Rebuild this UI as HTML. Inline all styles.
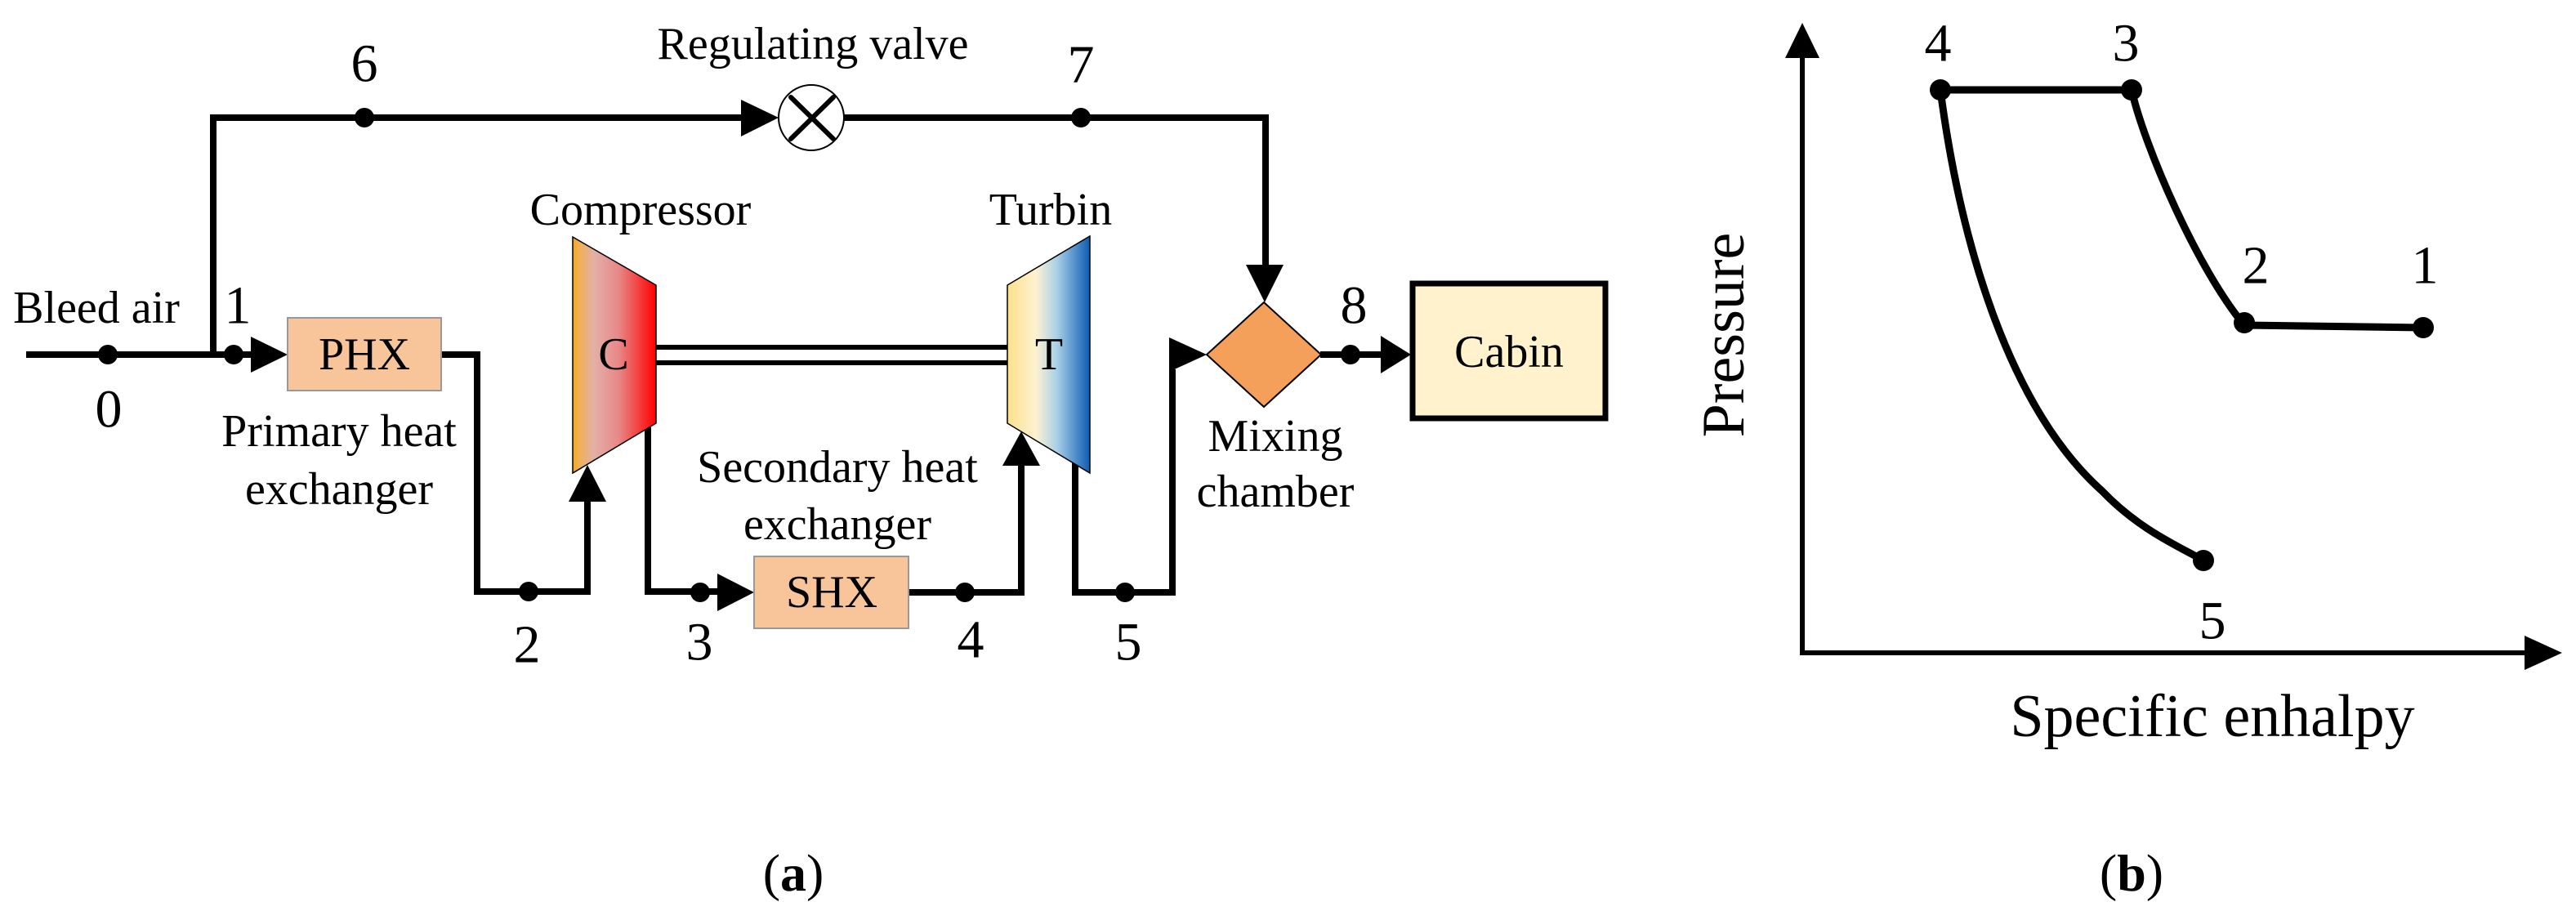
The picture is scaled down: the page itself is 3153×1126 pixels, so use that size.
<!DOCTYPE html>
<html><head><meta charset="utf-8"><style>
html,body{margin:0;padding:0;background:#fff;}
svg{display:block;}
svg text, svg tspan{font-family:"Liberation Serif","Times New Roman",serif !important;fill:#000;}
</style></head><body>
<svg width="3153" height="1126" viewBox="0 0 3153 1126" xmlns="http://www.w3.org/2000/svg" font-family="Liberation Serif, serif">
<defs>
<linearGradient id="gc" x1="0" x2="1" y1="0" y2="0">
<stop offset="0" stop-color="#f0a818"/><stop offset="0.07" stop-color="#f0b050"/><stop offset="0.25" stop-color="#e2b0a8"/><stop offset="0.55" stop-color="#e88888"/><stop offset="1" stop-color="#ff0000"/>
</linearGradient>
<linearGradient id="gt" x1="0" x2="1" y1="0" y2="0">
<stop offset="0" stop-color="#fde08a"/><stop offset="0.35" stop-color="#fdf2d2"/><stop offset="0.6" stop-color="#a8d0e8"/><stop offset="1" stop-color="#0e5cb4"/>
</linearGradient>
</defs>
<g stroke="#000" stroke-width="8" fill="none" stroke-linejoin="miter">
<polyline points="32,434 307,434"/>
<polyline points="261,434 261,144 908,144"/>
<polyline points="1033,144 1549,144 1549,326"/>
<polyline points="540,434 584,434 584,724 719,724 719,612"/>
<polyline points="793,523 793,724 880,724"/>
<polyline points="1112,725 1250,725 1250,568"/>
<polyline points="1316,566 1316,725 1435,725 1435,452"/>
<polyline points="1616,434 1692,434"/>
</g>
<g stroke="#000" stroke-width="6">
<line x1="803" y1="425" x2="1233" y2="425"/>
<line x1="803" y1="444" x2="1233" y2="444"/>
</g>
<g fill="#000">
<polygon points="307,412 352,434 307,456"/>
<polygon points="907,122 953,144 907,167"/>
<polygon points="696,614 742,614 719,569"/>
<polygon points="878,702 923,725 878,748"/>
<polygon points="1227,570 1273,570 1250,528"/>
<polygon points="1525,324 1571,324 1548,370"/>
<polygon points="1431,413 1477,434 1431,455"/>
<polygon points="1690,411 1727,434 1690,457"/>
</g>
<g fill="#000">
<circle cx="132" cy="434" r="12"/>
<circle cx="286" cy="434" r="12"/>
<circle cx="446" cy="144" r="12"/>
<circle cx="1323" cy="144" r="12"/>
<circle cx="647" cy="724" r="12"/>
<circle cx="857" cy="725" r="12"/>
<circle cx="1181" cy="725" r="12"/>
<circle cx="1377" cy="725" r="12"/>
<circle cx="1653" cy="434" r="12"/>
</g>
<circle cx="993" cy="144" r="40" fill="#fff" stroke="#000" stroke-width="2"/>
<g stroke="#000" stroke-width="6" stroke-linecap="round">
<line x1="968" y1="119" x2="1020" y2="170"/>
<line x1="1020" y1="119" x2="968" y2="170"/>
</g>
<rect x="352" y="389" width="188" height="89" fill="#f8c49a" stroke="#999" stroke-width="2"/>
<rect x="923" y="681" width="189" height="88" fill="#f8c49a" stroke="#999" stroke-width="2"/>
<polygon points="701,290 803,349 803,518 701,579" fill="url(#gc)" stroke="#000" stroke-width="1.5"/>
<polygon points="1233,349 1334,289 1334,579 1233,518" fill="url(#gt)" stroke="#000" stroke-width="1.5"/>
<polygon points="1477,434 1547,370 1617,434 1547,498" fill="#f4a05a" stroke="#000" stroke-width="2"/>
<rect x="1729" y="347" width="236" height="165" fill="#fff2cc" stroke="#000" stroke-width="7"/>
<g font-size="56" text-anchor="middle" dominant-baseline="central" font-family="Liberation Serif, serif">
<text x="446" y="434">PHX</text>
<text x="1018" y="725">SHX</text>
<text x="751" y="434">C</text>
<text x="1284" y="434">T</text>
<text x="1847" y="431">Cabin</text>
<text x="784" y="257">Compressor</text>
<text x="1286" y="257">Turbin</text>
<text x="995" y="54">Regulating valve</text>
<text x="118" y="377">Bleed air</text>
<text x="415" y="528">Primary heat</text>
<text x="415" y="599">exchanger</text>
<text x="1025" y="572">Secondary heat</text>
<text x="1025" y="642">exchanger</text>
<text x="1561" y="534">Mixing</text>
<text x="1561" y="602">chamber</text>
</g>
<g font-size="66" text-anchor="middle" dominant-baseline="central" font-family="Liberation Serif, serif">
<text x="133" y="501">0</text>
<text x="291" y="374">1</text>
<text x="446" y="78">6</text>
<text x="1323" y="79">7</text>
<text x="645" y="789">2</text>
<text x="856" y="786">3</text>
<text x="1188" y="783">4</text>
<text x="1381" y="786">5</text>
<text x="1657" y="374">8</text>
</g>
<text x="971" y="1068" font-size="64" text-anchor="middle" dominant-baseline="central" font-family="Liberation Serif, serif">(<tspan font-weight="bold">a</tspan>)</text>
<g stroke="#000" stroke-width="6" fill="none">
<polyline points="2206,60 2206,799 3100,799"/>
</g>
<g fill="#000">
<polygon points="2185,71 2227,71 2206,28"/>
<polygon points="3090,778 3136,799 3090,820"/>
</g>
<g stroke="#000" stroke-width="9" fill="none" stroke-linecap="round">
<line x1="2375" y1="110" x2="2609" y2="110"/>
<line x1="2747" y1="398" x2="2966" y2="401"/>
<path d="M2609,110 C2625,180 2690,330 2747,398"/>
<path d="M2375,110 C2400,300 2460,500 2573,601 C2620,650 2670,670 2697,686"/>
</g>
<g fill="#000">
<circle cx="2375" cy="110" r="13"/>
<circle cx="2609" cy="110" r="13"/>
<circle cx="2747" cy="395" r="13"/>
<circle cx="2966" cy="401" r="13"/>
<circle cx="2697" cy="686" r="13"/>
</g>
<g font-size="66" text-anchor="middle" dominant-baseline="central" font-family="Liberation Serif, serif">
<text x="2372" y="53">4</text>
<text x="2602" y="53">3</text>
<text x="2761" y="325">2</text>
<text x="2968" y="325">1</text>
<text x="2708" y="760">5</text>
</g>
<text x="2708" y="877" font-size="74" text-anchor="middle" dominant-baseline="central" font-family="Liberation Serif, serif">Specific enhalpy</text>
<text x="0" y="0" font-size="74" text-anchor="middle" dominant-baseline="central" font-family="Liberation Serif, serif" transform="translate(2110,410) rotate(-90)">Pressure</text>
<text x="2609" y="1068" font-size="64" text-anchor="middle" dominant-baseline="central" font-family="Liberation Serif, serif">(<tspan font-weight="bold">b</tspan>)</text>
</svg>
</body></html>
